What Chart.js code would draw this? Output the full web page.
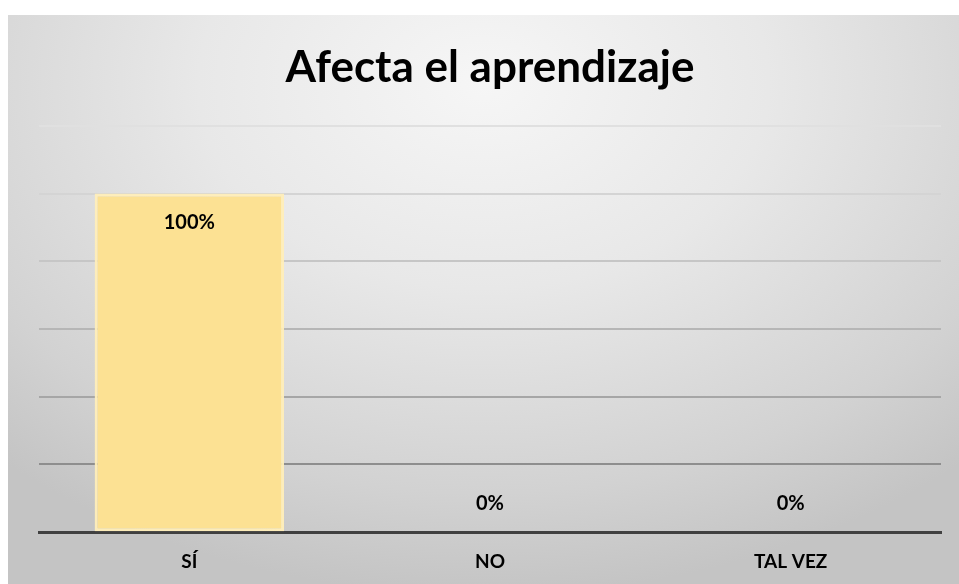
<!DOCTYPE html>
<html>
<head>
<meta charset="utf-8">
<script src="https://cdn.jsdelivr.net/npm/chart.js@4"></script>
<style>
  html, body { margin: 0; padding: 0; background: #fff; }
  #wrap {
    position: absolute; left: 8px; top: 15px; width: 951px; height: 569px;
    background: radial-gradient(ellipse 75% 90% at 50% 12%, #f6f6f6 0%, #e8e8e8 40%, #d2d2d2 80%, #c4c4c4 100%);
  }
</style>
</head>
<body>
<div id="wrap"><canvas id="chart" width="951" height="569"></canvas></div>
<script>
'use strict';
const categories = ['SÍ', 'NO', 'TAL VEZ'];
const percentValues = [1.0, 0, 0];
const yTicks = [0, 0.2, 0.4, 0.6, 0.8, 1.0, 1.2];

// grid lines fade out toward the top
const gridShades = ['rgba(0,0,0,0)', '#8e8e8e', '#a6a6a6', '#b6b6b6', '#c6c6c6', '#d4d4d4', '#e0e0e0'];

const barLabels = {
  id: 'barLabels',
  afterDatasetsDraw(chart) {
    const ctx = chart.ctx;
    const meta = chart.getDatasetMeta(0);
    ctx.save();
    ctx.font = 'bold 20px Lato';
    ctx.fillStyle = '#000';
    ctx.textAlign = 'center';
    ctx.textBaseline = 'middle';
    meta.data.forEach((bar, i) => {
      const v = percentValues[i];
      const txt = Math.round(v * 100) + '%';
      const y = v > 0 ? bar.y + 29 : bar.y - 29;
      ctx.fillText(txt, bar.x, y);
    });
    ctx.restore();
  }
};

let canvasElem = document.getElementById('chart');
new Chart(canvasElem, {
  type: 'bar',
  data: {
    labels: categories,
    datasets: [{
      data: percentValues,
      backgroundColor: '#fce193',
      borderColor: 'rgba(255,238,185,0.95)',
      borderWidth: 3,
      borderSkipped: false,
      categoryPercentage: 1,
      barPercentage: 0.63
    }]
  },
  options: {
    responsive: false,
    animation: false,
    layout: { padding: { left: 31, right: 18, top: 0, bottom: 1 } },
    plugins: {
      legend: { display: false },
      tooltip: { enabled: false },
      title: {
        display: true,
        text: 'Afecta el aprendizaje',
        color: '#000',
        font: { family: 'Lato', size: 44, weight: 'bold' },
        padding: { top: 26, bottom: 32 }
      }
    },
    scales: {
      x: {
        grid: { display: false },
        border: { display: true, color: '#404040', width: 3 },
        ticks: {
          color: '#000',
          padding: 10,
          font: { family: 'Lato', size: 19, weight: 'bold' }
        }
      },
      y: {
        min: 0,
        max: 1.2,
        afterBuildTicks(axis) { axis.ticks = yTicks.map(v => ({ value: v })); },
        ticks: { display: false },
        border: { display: false },
        grid: {
          drawTicks: false,
          lineWidth: 2,
          color: ctx => gridShades[ctx.index] || '#ccc'
        }
      }
    }
  },
  plugins: [barLabels]
});
</script>
</body>
</html>
